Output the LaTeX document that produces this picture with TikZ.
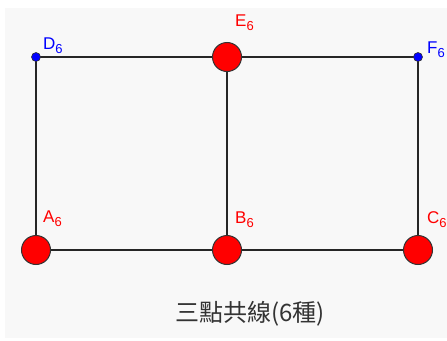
\documentclass[tikz,border=0pt]{standalone}
\usepackage{fontspec}
\setmainfont{Liberation Sans}
\newfontfamily\cjk{Noto Sans CJK TC}
\definecolor{bg}{HTML}{F8F8F8}
\definecolor{ptred}{HTML}{FF0000}
\definecolor{ptblue}{HTML}{0000FF}
\definecolor{txt}{HTML}{333333}
\newcommand{\lbl}[1]{\fontsize{17}{17}\selectfont #1\raisebox{-4pt}{\fontsize{13}{13}\selectfont 6}}
\begin{document}
\begin{tikzpicture}[x=1pt,y=-1pt,
  bigpt/.style={circle,draw=black!80,line width=1pt,fill=ptred,minimum size=29pt,inner sep=0pt},
  smallpt/.style={circle,draw=black!80,line width=0.6pt,fill=ptblue,minimum size=9pt,inner sep=0pt},
  seg/.style={draw=black!85,line width=1.3pt},
  redlbl/.style={text=ptred,anchor=base west,inner sep=0pt},
  bluelbl/.style={text=ptblue,anchor=base west,inner sep=0pt}]
\useasboundingbox (0,0) rectangle (447,340);
\fill[bg] (5,8) rectangle (447,338);
\coordinate (d) at (36,57);
\coordinate (e) at (227,57);
\coordinate (f) at (418,57);
\coordinate (a) at (36,250);
\coordinate (b) at (227,250);
\coordinate (c) at (418,250);
\draw[seg] (d) -- (e) -- (f);
\draw[seg] (a) -- (b) -- (c);
\draw[seg] (d) -- (a);
\draw[seg] (e) -- (b);
\draw[seg] (f) -- (c);
\node[smallpt] (D) at (d) {};
\node[smallpt] (F) at (f) {};
\node[bigpt] (E) at (e) {};
\node[bigpt] (A) at (a) {};
\node[bigpt] (B) at (b) {};
\node[bigpt] (C) at (c) {};
\node[bluelbl] (Dl) at (43,49) {\lbl{D}};
\node[redlbl] (El) at (235,27) {\lbl{E}};
\node[bluelbl] (Fl) at (427,53) {\lbl{F}};
\node[redlbl] (Al) at (43,222) {\lbl{A}};
\node[redlbl] (Bl) at (235,223) {\lbl{B}};
\node[redlbl] (Cl) at (427,223) {\lbl{C}};
\node[text=txt,inner sep=0pt] (t) at (250,314) {\fontsize{24}{24}\selectfont\cjk 三點共線(6種)};
\end{tikzpicture}
\end{document}
